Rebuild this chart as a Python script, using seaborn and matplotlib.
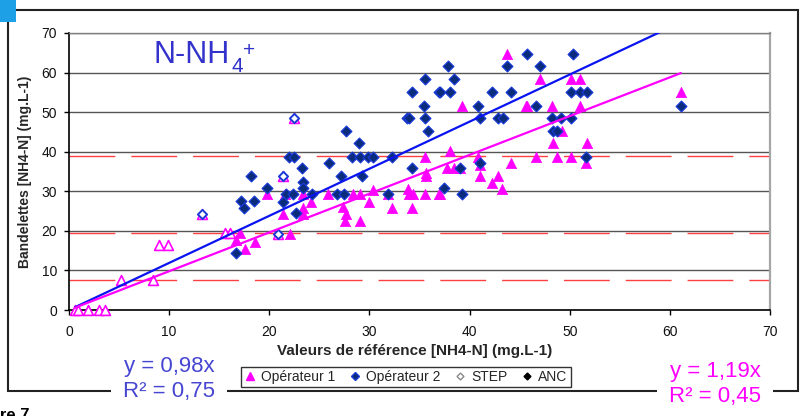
import matplotlib
matplotlib.use('Agg')
import matplotlib.pyplot as plt
import seaborn as sns
import numpy as np
import pandas as pd
from matplotlib.lines import Line2D
from matplotlib.patches import Rectangle

# --------- DATA -----------------------------------
# Opérateur 1, ANC samples (filled magenta triangles)
op1_x = [17.1, 16.7, 17.6, 18.6, 22.1, 19.8, 21.6, 23.4, 25.9, 24.2, 21.4, 23.4, 23.4,
         27.4, 27.7, 27.6, 28.4, 29.1, 29.1, 30.0, 30.4, 32.3, 31.9, 34.3, 33.9, 34.0,
         34.4, 35.5, 36.9, 35.6, 35.6, 35.5, 37.0, 37.7, 38.4, 39.0, 38.0, 40.8, 41.0,
         41.0, 42.8, 42.2, 43.2, 44.1, 39.2, 45.7, 43.7, 47.0, 50.1, 51.0, 45.6, 48.2,
         51.0, 49.2, 48.3, 51.7, 46.6, 48.7, 50.1, 51.6, 61.1]
op1_y = [19.4, 17.7, 15.4, 17.2, 19.2, 29.3, 29.3, 29.3, 29.3, 27.3, 24.2, 25.8, 24.2,
         26.0, 24.2, 22.5, 29.3, 29.3, 22.5, 27.3, 30.3, 25.8, 29.3, 25.8, 30.6, 29.3,
         29.3, 29.3, 29.3, 33.8, 34.6, 38.6, 29.3, 35.9, 35.9, 35.9, 40.2, 38.6, 36.6,
         33.8, 33.8, 32.1, 30.6, 37.1, 51.5, 51.5, 64.6, 58.3, 58.3, 58.3, 51.5, 51.5,
         51.5, 45.2, 42.2, 42.2, 38.6, 38.6, 38.6, 37.1, 55.1]

# Opérateur 1, STEP samples (open magenta triangles)
op1_step_x = [0.6, 0.9, 1.9, 3.0, 3.6, 5.2, 8.4, 9.0, 9.9, 15.6, 16.1, 13.3, 20.9, 21.4, 22.5]
op1_step_y = [0.0, 0.0, 0.0, 0.0, 0.0, 7.6, 7.6, 16.4, 16.4, 19.4, 19.4, 24.2, 19.2, 33.8, 48.5]

# Opérateur 2, ANC samples (filled blue diamonds)
op2_x = [16.7, 18.2, 17.2, 17.5, 18.5, 22.0, 22.5, 23.3, 26.0, 27.2, 23.4, 23.4, 19.8,
         21.7, 22.4, 24.3, 26.8, 27.5, 21.4, 22.7, 27.7, 29.0, 28.3, 29.1, 29.9, 30.4,
         32.3, 29.3, 31.9, 34.3, 35.5, 34.3, 36.9, 35.4, 33.8, 34.0, 35.5, 35.8, 37.8,
         43.7, 45.7, 50.3, 38.4, 37.0, 38.0, 42.2, 44.1, 40.8, 41.0, 42.8, 43.3, 41.0,
         39.0, 37.4, 39.2, 47.0, 50.1, 51.0, 51.7, 46.6, 48.2, 49.1, 50.1, 48.3, 48.7,
         51.6, 61.1]
op2_y = [14.4, 33.8, 27.5, 25.8, 27.5, 38.6, 38.6, 35.9, 37.1, 33.8, 32.3, 30.8, 30.8,
         29.3, 29.3, 29.3, 29.3, 29.3, 27.3, 24.5, 45.2, 42.2, 38.6, 38.6, 38.6, 38.6,
         38.6, 33.8, 29.3, 35.9, 58.3, 55.1, 55.1, 51.5, 48.5, 48.5, 48.5, 45.2, 61.6,
         61.6, 64.6, 64.6, 58.3, 55.1, 55.1, 55.1, 55.1, 51.5, 48.5, 48.5, 48.5, 37.1,
         35.9, 30.8, 29.3, 61.6, 55.1, 55.1, 55.1, 51.5, 48.5, 48.5, 48.5, 45.2, 45.2,
         38.6, 51.5]

# Opérateur 2, STEP samples (open blue diamonds)
op2_step_x = [13.3, 20.9, 21.4, 22.5]
op2_step_y = [24.2, 19.2, 33.8, 48.5]

# trendlines through the origin
fit_x = [0.6, 61.1]
slope_magenta = 0.98
slope_blue = 1.19

# red dashed reference levels
limits = [7.5, 19.5, 39.0]

ticks = [0, 10, 20, 30, 40, 50, 60, 70]
legend_labels = ["Opérateur 1", "Opérateur 2", "STEP", "ANC"]

MAGENTA = '#ff00ff'
NAVY = '#0b2c7a'
BLUE_EDGE = '#1a3ad8'

# --------- STYLE ----------
sns.set_theme(style='white')
plt.rcParams['font.family'] = ['Liberation Sans', 'DejaVu Sans']

W, H = 803, 416
fig = plt.figure(figsize=(W / 100, H / 100), dpi=100)
fig.patch.set_facecolor('white')
ax = fig.add_axes([69 / W, (H - 310) / H, (770 - 69) / W, (310 - 33) / H])

# --------- PLOT ----------
for lv in limits:
    ax.axhline(lv, color='#ff4040', lw=1.0, linestyle=(0, (33, 11.5)), zorder=1)

df1 = pd.DataFrame({'x': op1_x, 'y': op1_y})
df1s = pd.DataFrame({'x': op1_step_x, 'y': op1_step_y})
df2 = pd.DataFrame({'x': op2_x, 'y': op2_y})
df2s = pd.DataFrame({'x': op2_step_x, 'y': op2_step_y})

sns.scatterplot(data=df1, x='x', y='y', marker='^', s=55, color=MAGENTA,
                edgecolor=MAGENTA, linewidth=0.5, ax=ax, zorder=3, clip_on=False)
sns.scatterplot(data=df1s, x='x', y='y', marker='^', s=50, color='white',
                edgecolor=MAGENTA, linewidth=1.2, ax=ax, zorder=3, clip_on=False)
sns.scatterplot(data=df2, x='x', y='y', marker='D', s=30, color=NAVY,
                edgecolor=BLUE_EDGE, linewidth=0.9, ax=ax, zorder=4, clip_on=False)
sns.scatterplot(data=df2s, x='x', y='y', marker='D', s=22, color='white',
                edgecolor=BLUE_EDGE, linewidth=1.4, ax=ax, zorder=4, clip_on=False)

fx = np.array(fit_x)
sns.lineplot(x=fx, y=slope_blue * fx, color='#0a14f0', lw=1.6, ax=ax, zorder=5)
sns.lineplot(x=fx, y=slope_magenta * fx, color=MAGENTA, lw=1.6, ax=ax, zorder=5)

ax.set_xlim(0, 70)
ax.set_ylim(0, 70)
ax.set_xticks(ticks)
ax.set_yticks(ticks)
ax.yaxis.grid(True, color='#555555', lw=1.0)
ax.set_axisbelow(True)
ax.tick_params(axis='both', which='both', direction='out', length=3.5, width=1,
               color='black', labelsize=10, labelcolor='#111111', left=True, bottom=True)
ax.tick_params(axis='x', pad=7)
ax.tick_params(axis='y', pad=5)

for s in ['left', 'bottom']:
    ax.spines[s].set_color('black')
    ax.spines[s].set_linewidth(1.2)
ax.spines['right'].set_color('#a6a6a6')
ax.spines['right'].set_linewidth(1.6)
ax.spines['top'].set_color('#808080')
ax.spines['top'].set_linewidth(1.0)

ax.set_xlabel('Valeurs de référence [NH4-N] (mg.L-1)', fontsize=11, fontweight='bold')
ax.xaxis.set_label_coords((415 - 69) / 701, (310 - 351) / 277)
ax.xaxis.label.set_va('center')
ax.set_ylabel('Bandelettes [NH4-N] (mg.L-1)', fontsize=10, fontweight='bold')
ax.yaxis.set_label_coords((25 - 69) / 701, (310 - 172) / 277)
ax.yaxis.label.set_va('center')

# title N-NH4+ : main text, then subscript 4 and superscript +
title = ax.text((154 - 69) / 701, (310 - 63) / 277, 'N-NH', transform=ax.transAxes,
                fontsize=22, color='#3333cc', ha='left', va='baseline')
ax.annotate('4', xy=(1, 0), xycoords=title, xytext=(1, -1.5), textcoords='offset points',
            fontsize=15, color='#3333cc', ha='left', va='baseline')
ax.annotate('+', xy=(1, 0), xycoords=title, xytext=(9, 10), textcoords='offset points',
            fontsize=15, color='#3333cc', ha='left', va='baseline')

# --------- DECORATION ----------
fig.add_artist(Rectangle((8 / W, (H - 391) / H), (798 - 8) / W, (391 - 10) / H,
                         transform=fig.transFigure, fill=False, edgecolor='#222222',
                         lw=1.5, zorder=0))
fig.add_artist(Rectangle((0, (H - 22) / H), 16 / W, 22 / H, transform=fig.transFigure,
                         facecolor='#1ea0e6', edgecolor='none', zorder=0.5))

handles = [
    Line2D([], [], ls='', marker='^', ms=6, color=MAGENTA),
    Line2D([], [], ls='', marker='D', ms=4.5, mfc=NAVY, mec=BLUE_EDGE),
    Line2D([], [], ls='', marker='D', ms=3.5, mfc='white', mec='#888888'),
    Line2D([], [], ls='', marker='D', ms=3.5, color='black'),
]
leg = fig.legend(handles, legend_labels, loc='center', bbox_to_anchor=(406 / W, (H - 377) / H),
                 ncol=4, frameon=True, fancybox=False, edgecolor='black', fontsize=10,
                 handlelength=0.8, handletextpad=0.4, columnspacing=1.0, borderpad=0.25)
leg.get_frame().set_linewidth(1.0)
leg.set_zorder(6)

fig.text(169 / W, (H - 379) / H, 'y = 0,98x\nR² = 0,75', ha='center', va='center',
         fontsize=16, color='#4646d2', linespacing=1.3,
         bbox=dict(boxstyle='square,pad=0.55', fc='white', ec='none'), zorder=5)
fig.text(715 / W, (H - 384) / H, 'y = 1,19x\nR² = 0,45', ha='center', va='center',
         fontsize=16, color=MAGENTA, linespacing=1.3,
         bbox=dict(boxstyle='square,pad=0.55', fc='white', ec='none'), zorder=5)

# caption, cut by the lower and left edges as in the source
fig.text(-35 / W, (H - 420) / H, 'Figure 7.', fontsize=12, fontweight='bold',
         ha='left', va='baseline', color='black')

fig.savefig('out.png', dpi=100)
plt.close(fig)
